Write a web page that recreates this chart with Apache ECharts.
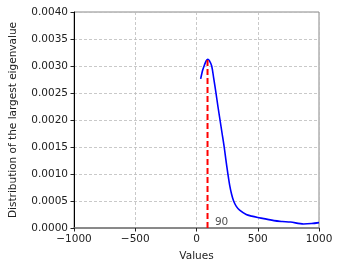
<!DOCTYPE html>
<html>
<head>
<meta charset="utf-8">
<script src="https://cdn.jsdelivr.net/npm/echarts@6/dist/echarts.min.js"></script>
<style>
html,body{margin:0;padding:0;background:#fff;}
#chart{width:341px;height:271px;}
</style>
</head>
<body>
<div id="chart"></div>
<script>
// Density curve (x values, density values)
const curveX = [34, 50, 65, 80, 92, 105, 124, 140, 159, 175, 192, 209, 226, 240, 255, 271, 287, 303, 325, 352, 406, 450, 500, 633, 700, 767, 874, 940, 1000];
const curveY = [0.00276, 0.00292, 0.00302, 0.00310, 0.003124, 0.00310, 0.0030, 0.00278, 0.0025, 0.00225, 0.0020, 0.00175, 0.0015, 0.00126, 0.00102, 0.00079, 0.00062, 0.00050, 0.00040, 0.00033, 0.00025, 0.00022, 0.000195, 0.000136, 0.00012, 0.00011, 0.000074, 0.000082, 0.0001];
// Peak marker
const peakX = 90;
const peakY = 0.003124;
const peakLabel = '90';
const peakLabelX = 150;
const xTicks = [-1000, -500, 0, 500, 1000];
const yTicks = [0, 0.0005, 0.001, 0.0015, 0.002, 0.0025, 0.003, 0.0035, 0.004];

const chart = echarts.init(document.getElementById('chart'), null, {renderer: 'canvas'});
const font = 'DejaVu Sans';
const curveData = curveX.map((x, i) => [x, curveY[i]]);

chart.setOption({
  animation: false,
  backgroundColor: '#fff',
  grid: {left: 70, right: 22, top: 12, bottom: 43, show: true, borderColor: '#888', borderWidth: 1},
  xAxis: {
    type: 'value', min: xTicks[0], max: xTicks[xTicks.length - 1], interval: 500,
    name: 'Values', nameLocation: 'middle', nameGap: 23,
    nameTextStyle: {fontFamily: font, fontSize: 10.5, color: '#222'},
    axisLine: {show: true, onZero: false, lineStyle: {color: '#777', width: 1.5}},
    axisTick: {show: true, length: 3.5, lineStyle: {color: '#222'}},
    axisLabel: {fontFamily: font, fontSize: 10.5, color: '#222', margin: 6,
      formatter: v => (v < 0 ? '\u2212' + Math.abs(v) : String(v))},
    splitLine: {show: true, lineStyle: {color: '#bbb', type: [3, 2], width: 0.8}}
  },
  yAxis: {
    type: 'value', min: yTicks[0], max: yTicks[yTicks.length - 1], interval: 0.0005,
    name: 'Distribution of the largest eigenvalue', nameLocation: 'middle', nameGap: 55,
    nameTextStyle: {fontFamily: font, fontSize: 10.5, color: '#222'},
    axisLine: {show: true, onZero: false, lineStyle: {color: '#000', width: 1}},
    axisTick: {show: true, length: 3.5, lineStyle: {color: '#222'}},
    axisLabel: {fontFamily: font, fontSize: 10.5, color: '#222', margin: 6,
      formatter: v => v.toFixed(4)},
    splitLine: {show: true, lineStyle: {color: '#bbb', type: [3, 2], width: 0.8}}
  },
  series: [
    {
      type: 'line', data: curveData, smooth: 0.3, showSymbol: false,
      lineStyle: {color: '#0000ff', width: 1.6}
    },
    {
      type: 'line', data: [[peakX, 0], [peakX, peakY]], showSymbol: false,
      lineStyle: {color: '#ff0000', width: 2, type: [6, 3]}, z: 3
    },
    {
      type: 'scatter', data: [[peakLabelX, 0]], symbolSize: 0,
      label: {show: true, formatter: peakLabel, position: [0, 0], align: 'left', verticalAlign: 'bottom',
        offset: [0, 0], fontFamily: font, fontSize: 10.5, color: '#222'}
    }
  ]
});
</script>
</body>
</html>
